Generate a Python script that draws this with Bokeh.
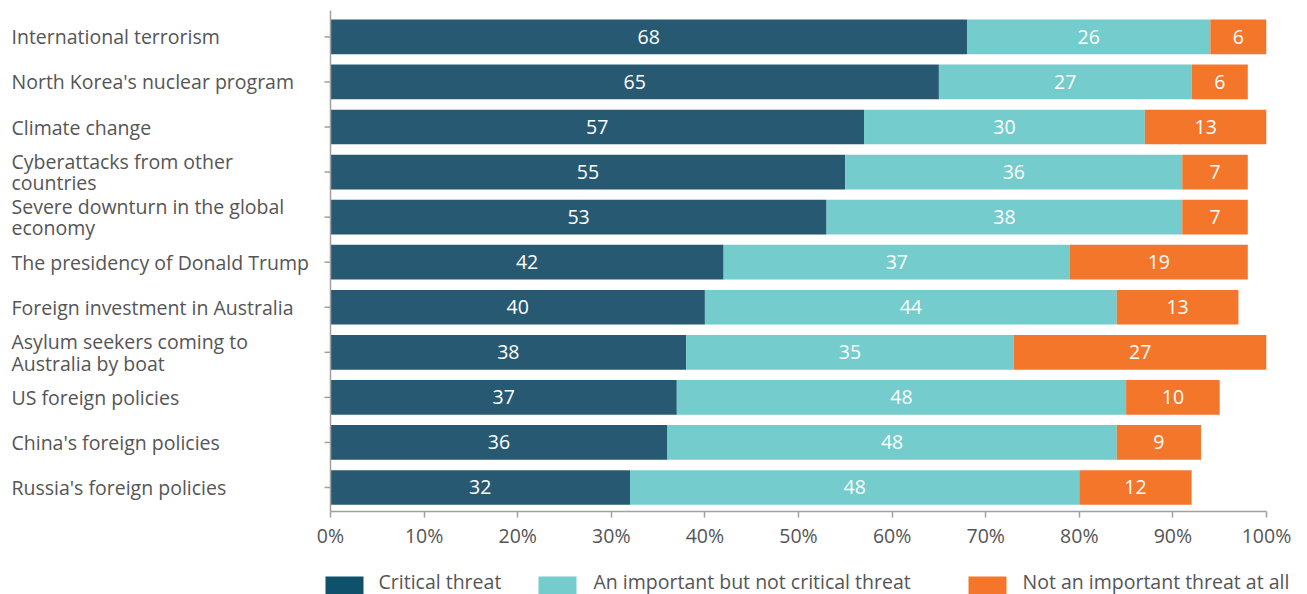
from bokeh.plotting import figure
from bokeh.models import Range1d, FixedTicker, ColumnDataSource
from bokeh.embed import file_html
from bokeh.resources import INLINE
from bokeh.core.properties import value

# ---------------- data ----------------
categories = [
    "International terrorism",
    "North Korea's nuclear program",
    "Climate change",
    "Cyberattacks from other\ncountries",
    "Severe downturn in the global\neconomy",
    "The presidency of Donald Trump",
    "Foreign investment in Australia",
    "Asylum seekers coming to\nAustralia by boat",
    "US foreign policies",
    "China's foreign policies",
    "Russia's foreign policies",
]
critical = [68, 65, 57, 55, 53, 42, 40, 38, 37, 36, 32]
important = [26, 27, 30, 36, 38, 37, 44, 35, 48, 48, 48]
not_important = [6, 6, 13, 7, 7, 19, 13, 27, 10, 9, 12]
series_names = ["Critical threat", "An important but not critical threat",
                "Not an important threat at all"]
x_ticks = [0, 10, 20, 30, 40, 50, 60, 70, 80, 90, 100]
x_tick_labels = ["0%", "10%", "20%", "30%", "40%", "50%", "60%", "70%", "80%", "90%", "100%"]

# ---------------- style ----------------
colors = ["#275A72", "#74CCCD", "#F3762B"]
legend_colors = ["#0F506B", "#74CCCD", "#F3762B"]
FONT = "Open Sans"
FS = "19.5px"
TEXT_COLOR = "#555555"
AXIS_COLOR = "#A0A0A0"

W, H = 1300, 594
FL, FR, FT, FB = 330, 1266, 10, 511   # frame edges in px
n = len(categories)
Y_TOP, Y_BOT = n - 1 + 0.586, -0.533

p = figure(width=W, height=H, output_backend="svg", toolbar_location=None,
           x_range=Range1d(0, 100), y_range=Range1d(Y_BOT, Y_TOP),
           min_border_left=FL, min_border_right=W - FR,
           min_border_top=FT, min_border_bottom=H - FB)
p.outline_line_color = None
p.xgrid.visible = False
p.ygrid.visible = False
p.background_fill_color = "white"
p.border_fill_color = "white"

xpp = 100.0 / (FR - FL)
ypp = (Y_TOP - Y_BOT) / (FB - FT)
def px2x(px):
    return (px - FL) * xpp
def py2y(py):
    return Y_TOP - (py - FT) * ypp

ys = [n - 1 - i for i in range(n)]
series = [critical, important, not_important]
left = [0] * n
for k, vals in enumerate(series):
    right = [l + v for l, v in zip(left, vals)]
    src = ColumnDataSource(dict(y=ys, left=left, right=right,
                                xc=[(l + r) / 2 for l, r in zip(left, right)],
                                lab=[str(v) for v in vals]))
    p.hbar(y="y", left="left", right="right", height=0.77, source=src,
           fill_color=colors[k], line_color=None)
    p.text(x="xc", y="y", text="lab", source=src, text_align="center",
           text_baseline="middle", text_color="white", text_font=value(FONT),
           text_font_size=FS)
    left = right

# category labels (left aligned, outside the frame)
line_gap = 21.5 * ypp
lx, ly, lt = [], [], []
for yv, cat in zip(ys, categories):
    lines = cat.split("\n")
    m = len(lines)
    for j, ln in enumerate(lines):
        lx.append(px2x(11))
        ly.append(yv + ((m - 1) / 2 - j) * line_gap)
        lt.append(ln)
p.text(x=lx, y=ly, text=lt, text_align="left", text_baseline="middle",
       text_font=value(FONT), text_font_size=FS, text_color=TEXT_COLOR,
       level="overlay")

# y ticks drawn as short segments
p.segment(x0=[px2x(324)] * n, x1=[0] * n, y0=ys, y1=ys,
          line_color=AXIS_COLOR, line_width=1.5, level="overlay")

# axes
xa = p.xaxis[0]
xa.ticker = FixedTicker(ticks=x_ticks)
xa.major_label_overrides = {t: l for t, l in zip(x_ticks, x_tick_labels)}
xa.axis_line_color = AXIS_COLOR
xa.axis_line_width = 1.5
xa.major_tick_line_color = AXIS_COLOR
xa.major_tick_line_width = 1.5
xa.major_tick_in = 0
xa.major_tick_out = 6
xa.minor_tick_line_color = None
xa.major_label_text_font = FONT
xa.major_label_text_font_size = FS
xa.major_label_text_color = TEXT_COLOR
xa.major_label_standoff = 4

ya = p.yaxis[0]
ya.ticker = FixedTicker(ticks=[])
ya.axis_line_color = AXIS_COLOR
ya.axis_line_width = 1.5
ya.major_tick_line_color = None
ya.minor_tick_line_color = None

# legend (drawn manually below the axis)
sq_left = [325, 538, 968]
txt_left = [378, 593, 1022]
for k in range(3):
    p.quad(left=[px2x(sq_left[k])], right=[px2x(sq_left[k] + 38)],
           top=[py2y(576)], bottom=[py2y(596)],
           fill_color=legend_colors[k], line_color=None, level="overlay")
p.text(x=[px2x(t) for t in txt_left], y=[py2y(581)] * 3, text=series_names,
       text_align="left", text_baseline="middle", text_font=value(FONT),
       text_font_size=FS, text_color=TEXT_COLOR, level="overlay")

open("out.html", "w").write(file_html(p, INLINE))
